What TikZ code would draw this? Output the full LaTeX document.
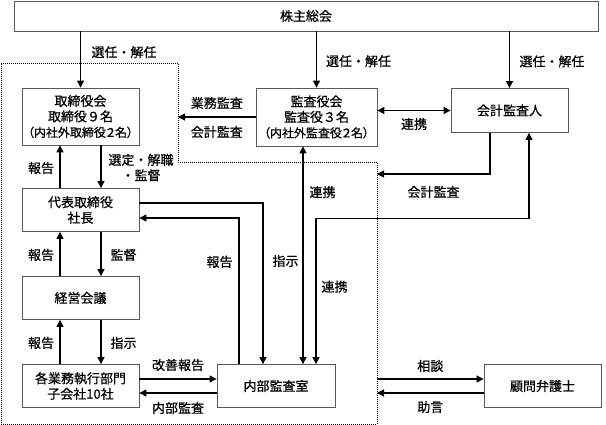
\documentclass[tikz,border=0pt]{standalone}
\usepackage{fontspec}
\setmainfont{Noto Sans CJK JP}[FakeBold=0.7]
\newfontfamily\pfont[RawFeature=+palt,FakeBold=0.7]{Noto Sans CJK JP}
\usetikzlibrary{arrows.meta,positioning}

\tikzstyle{s} = [rectangle, minimum width=117pt, text width=115pt, minimum height=43pt, text centered, draw=black!65, line width=0.8pt, inner sep=0pt]
\tikzstyle{lab} = [inner sep=0pt, align=center]
\tikzstyle{dotframe} = [line width=0.8pt, dash pattern=on 0.9pt off 1.1pt]

\begin{document}
\begin{tikzpicture}[x=1pt,y=-1pt,->,>={Triangle[length=7pt,width=7pt]},line width=1.1pt,node distance=88pt,font=\fontsize{13pt}{15.5pt}\selectfont]
\useasboundingbox (0,0) rectangle (606,425);

\draw[-,dotframe] (1,63) -- (178,63) -- (178,162) -- (377,162) -- (377,424) -- (1,424) -- cycle;
\coordinate (b1) at (178,117);
\coordinate (b2) at (377,174);
\coordinate (b3) at (377,379);
\coordinate (b4) at (377,393);

\node[s, minimum width=584pt, text width=580pt, minimum height=30pt] (GM) at (306,16) {株主総会};

\node[s, minimum height=57pt] (BD) at (80.5,116.5) {取締役会\\取締役９名\\{\pfont\fontsize{12pt}{15.5pt}\selectfont （内社外取締役２名）}};
\node[s] (P) [below of=BD, yshift=-5.5pt] {代表取締役\\社長};
\node[s] (MC) [below of=P] {経営会議};
\node[s] (Ops) [below of=MC] {各業務執行部門\\子会社10社};
\node[s, minimum width=118pt] (IA) [right of=Ops, xshift=107.5pt] {内部監査室};
\node[s] (LC) [right of=IA, xshift=178.5pt] {顧問弁護士};

\node[s, minimum width=121pt, minimum height=58pt] (AB) at (316.5,117) {監査役会\\監査役３名\\{\pfont\fontsize{12pt}{15.5pt}\selectfont （内社外監査役２名）}};
\node[s, minimum height=44pt] (AA) at (509.5,110.5) {会計監査人};

\path (GM.south -| BD.north) edge node[lab, pos=0.37, xshift=43.5pt] {選任・解任} (BD.north)
    (GM.south -| AB.north) edge node[lab, pos=0.53, xshift=42pt] {選任・解任} (AB.north)
    (GM.south -| AA.north) edge node[lab, pos=0.53, xshift=42.5pt] {選任・解任} (AA.north)
    (AB.west) edge node[lab, yshift=14pt] {業務監査} node[lab, yshift=-15pt] {会計監査} (b1)
    ;
\path[<->] (AB.east |- AA.west) edge node[lab, yshift=-13.5pt] {連携} (AA.west)
    ([xshift=-13.5pt]AB.south) edge node[lab, pos=0.21, xshift=19.5pt] {連携} ([xshift=27pt]IA.north)
    ;

\draw ([xshift=-19.5pt]AA.south) |- node[lab, pos=0.75, yshift=-18pt] {会計監査} (b2);
\draw[<->] ([xshift=40pt]IA.north) -- node[lab, pos=0.53, xshift=18.5pt] {連携} ++(0,-146) -| ([xshift=19.5pt]AA.south);
\draw ([yshift=7pt]P.east) -| node[lab, pos=0.68, xshift=22.5pt] {指示} ([xshift=-13pt]IA.north);
\draw ([xshift=-37pt]IA.north) |- node[lab, pos=0.35, xshift=-19.5pt] {報告} ([yshift=-8pt]P.east);

\path ([xshift=-20.5pt]P.north) edge node[lab, pos=0.47, xshift=-19pt] {報告} ([xshift=-20.5pt]BD.south)
    ([xshift=20.5pt]BD.south) edge node[lab, pos=0.52, xshift=40pt] {選定・解職\\・監督} ([xshift=20.5pt]P.north)
    ([xshift=-20.5pt]MC.north) edge node[lab, pos=0.48, xshift=-19pt] {報告} ([xshift=-20.5pt]P.south)
    ([xshift=20.5pt]P.south) edge node[lab, pos=0.52, xshift=22.5pt] {監督} ([xshift=20.5pt]MC.north)
    ([xshift=-20.5pt]Ops.north) edge node[lab, pos=0.48, xshift=-19pt] {報告} ([xshift=-20.5pt]MC.south)
    ([xshift=20.5pt]MC.south) edge node[lab, pos=0.52, xshift=22.5pt] {指示} ([xshift=20.5pt]Ops.north)
    ;

\path ([yshift=7pt]Ops.east) edge node[lab, yshift=14pt] {改善報告} ([yshift=7pt]IA.west)
    ([yshift=-7pt]IA.west) edge node[lab, yshift=-15pt] {内部監査} ([yshift=-7pt]Ops.east)
    (b3) edge node[lab, yshift=13pt] {相談} ([yshift=7pt]LC.west)
    ([yshift=-7pt]LC.west) edge node[lab, yshift=-14pt] {助言} (b4)
    ;

\end{tikzpicture}
\end{document}
